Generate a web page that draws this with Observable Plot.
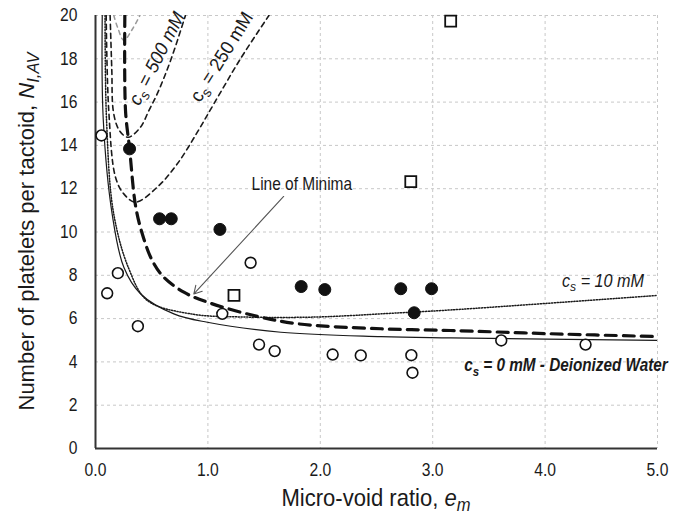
<!DOCTYPE html>
<html><head><meta charset="utf-8">
<script src="https://cdn.jsdelivr.net/npm/d3@7"></script>
<script src="https://cdn.jsdelivr.net/npm/@observablehq/plot@0.6"></script>
<style>
body{margin:0;background:#fff;}
#chart svg{display:block;}
</style></head><body><div id="chart"></div>
<script>
// ---- data ----
const xTicks = [0, 1, 2, 3, 4, 5];
const yTicks = [0, 2, 4, 6, 8, 10, 12, 14, 16, 18, 20];

const openX = [0.053, 0.104, 0.199, 0.377, 1.128, 1.38, 1.455, 1.594, 2.11, 2.36, 2.81, 2.82, 3.61, 4.36];
const openY = [14.46, 7.17, 8.10, 5.65, 6.22, 8.58, 4.80, 4.50, 4.34, 4.30, 4.31, 3.50, 4.99, 4.80];

const filledX = [0.303, 0.57, 0.674, 1.107, 1.83, 2.04, 2.716, 2.99, 2.835];
const filledY = [13.84, 10.61, 10.61, 10.12, 7.48, 7.34, 7.38, 7.38, 6.27];

const squareX = [1.232, 2.805, 3.16];
const squareY = [7.07, 12.33, 19.74];

// cs = 0 mM (deionized water), solid
const water0X = [0.06, 0.069, 0.149, 0.252, 0.40, 0.697, 0.995, 1.65, 2.54, 3.16, 5.0];
const water0Y = [20.0, 15.2, 10.8, 8.37, 7.15, 6.22, 5.83, 5.37, 5.17, 5.11, 4.99];

// cs = 10 mM, dotted
const cs10X = [0.085, 0.098, 0.16, 0.297, 0.46, 0.846, 1.35, 1.94, 2.27, 2.54, 3.16, 5.0];
const cs10Y = [20.0, 15.2, 10.9, 8.3, 6.84, 6.22, 6.07, 6.07, 6.14, 6.22, 6.4, 7.07];

// cs = 250 mM, dashed
const cs250X = [0.095, 0.118, 0.178, 0.252, 0.356, 0.549, 0.728, 0.906, 1.053, 1.291, 1.543];
const cs250Y = [20.0, 15.6, 12.53, 11.76, 11.38, 12.07, 13.15, 14.61, 15.92, 18.01, 20.0];

// cs = 500 mM, dashed
const cs500X = [0.13, 0.145, 0.158, 0.2, 0.252, 0.297, 0.40, 0.475, 0.549, 0.668, 0.80];
const cs500Y = [20.0, 17.5, 15.6, 14.8, 14.46, 14.38, 14.84, 15.61, 16.38, 17.92, 20.0];

// highest concentration curve (light grey, partially visible)
const csHighX = [0.163, 0.2, 0.252, 0.32, 0.395];
const csHighY = [20.0, 19.4, 18.85, 19.3, 20.0];

// line of minima, heavy dashed
const minimaX = [0.261, 0.267, 0.303, 0.356, 0.416, 0.505, 0.608, 0.786, 0.995, 1.41, 1.80, 2.54, 3.16, 4.05, 5.0];
const minimaY = [20.0, 15.61, 13.86, 11.22, 9.92, 8.68, 7.91, 7.22, 6.76, 6.14, 5.76, 5.53, 5.45, 5.3, 5.17];

// annotation arrow (tail -> head)
const arrowFrom = [1.674, 11.64];
const arrowTo = [0.875, 7.14];

// label anchors
const minimaLabel = {x: 1.84, y: 12.1, text: "Line of Minima"};
const csLabels = [
  {x: 0.557, y: 17.97, rotate: -63, value: "500 mM", style: "italic", weight: "normal", size: 19, k: 0.95},
  {x: 1.135, y: 18.04, rotate: -58, value: "250 mM", style: "normal", weight: "normal", size: 19, k: 0.95},
  {x: 4.52, y: 7.67, rotate: 0, value: "10 mM", style: "italic", weight: "normal", size: 18, k: 0.9},
  {x: 4.19, y: 3.74, rotate: 0, value: "0 mM - Deionized Water", style: "italic", weight: "bold", size: 18, k: 0.85}
];

// ---- build tables ----
const zip = (xs, ys) => xs.map((x, i) => ({x, y: ys[i]}));
const openPts = zip(openX, openY);
const filledPts = zip(filledX, filledY);
const squarePts = zip(squareX, squareY);

const FONT = "'Liberation Sans',Arial,sans-serif";
const INK = "#1a1a1a";
const NARROW = 0.87;

const chart = Plot.plot({
  width: 682,
  height: 520,
  marginLeft: 95,
  marginRight: 25,
  marginTop: 15,
  marginBottom: 72,
  style: {fontFamily: FONT, background: "#fff", color: INK},
  x: {domain: [0, 5], label: null},
  y: {domain: [0, 20], label: null},
  marks: [
    Plot.gridX(xTicks.filter(d => d > 0), {stroke: "#c8c8c8", strokeOpacity: 1, strokeDasharray: "3,3", strokeWidth: 1}),
    Plot.gridY(yTicks.filter(d => d > 0), {stroke: "#c8c8c8", strokeOpacity: 1, strokeDasharray: "3,3", strokeWidth: 1}),
    Plot.axisX(xTicks, {tickSize: 0, tickPadding: 15, fontSize: 18, tickFormat: d => d.toFixed(1), fill: INK, label: null}),
    Plot.axisY(yTicks, {tickSize: 0, tickPadding: 18, fontSize: 18, fill: INK, label: null}),
    Plot.line(zip(csHighX, csHighY), {x: "x", y: "y", curve: "catmull-rom", stroke: "#9a9a9a", strokeWidth: 1.5, strokeDasharray: "4,4", clip: true}),
    Plot.line(zip(water0X, water0Y), {x: "x", y: "y", curve: "catmull-rom", stroke: INK, strokeWidth: 1.2, clip: true}),
    Plot.line(zip(cs10X, cs10Y), {x: "x", y: "y", curve: "catmull-rom", stroke: INK, strokeWidth: 1.5, strokeDasharray: "1.2,1.6", clip: true}),
    Plot.line(zip(cs250X, cs250Y), {x: "x", y: "y", curve: "catmull-rom", stroke: INK, strokeWidth: 1.6, strokeDasharray: "5,4", clip: true}),
    Plot.line(zip(cs500X, cs500Y), {x: "x", y: "y", curve: "catmull-rom", stroke: INK, strokeWidth: 1.6, strokeDasharray: "5,4", clip: true}),
    Plot.line(zip(minimaX, minimaY), {x: "x", y: "y", curve: "catmull-rom", stroke: "#111", strokeWidth: 3.2, strokeDasharray: "11,7", clip: true}),
    Plot.arrow([{x1: arrowFrom[0], y1: arrowFrom[1], x2: arrowTo[0], y2: arrowTo[1]}], {x1: "x1", y1: "y1", x2: "x2", y2: "y2", stroke: "#555", strokeWidth: 1.1, headLength: 12, bend: 0}),
    Plot.ruleX([0], {stroke: "#333", strokeWidth: 2}),
    Plot.ruleY([0], {stroke: "#333", strokeWidth: 2}),
    Plot.dot(openPts, {x: "x", y: "y", r: 5.4, fill: "#fff", stroke: "#111", strokeWidth: 1.6}),
    Plot.dot(filledPts, {x: "x", y: "y", r: 6, fill: "#111", stroke: "#111", strokeWidth: 1}),
    Plot.dot(squarePts, {x: "x", y: "y", symbol: "square", r: 6.2, fill: "#fff", stroke: "#111", strokeWidth: 1.8})
  ]
});

document.getElementById("chart").appendChild(chart);

// condense the tick labels horizontally (narrow font look)
d3.select(chart).selectAll("g[aria-label='x-axis tick label'] text, g[aria-label='y-axis tick label'] text")
  .each(function() {
    const tr = this.getAttribute("transform") || "";
    this.setAttribute("transform", tr + ` scale(${NARROW},1)`);
  });

// ---- rich text labels (subscripts) ----
const sx = chart.scale("x"), sy = chart.scale("y");
const svg = d3.select(chart);

function rich(x, y, rotate, size, segs, opts = {}) {
  const t = svg.append("text")
    .attr("transform", `translate(${x},${y}) rotate(${rotate}) scale(${opts.k ?? NARROW},1)`)
    .attr("text-anchor", opts.anchor || "middle")
    .attr("dominant-baseline", opts.baseline || "middle")
    .attr("font-family", FONT)
    .attr("font-size", size)
    .attr("font-style", opts.style || "normal")
    .attr("font-weight", opts.weight || "normal")
    .attr("fill", INK);
  let shifted = 0;
  const drop = opts.drop ?? 0.3;
  for (const s of segs) {
    const ts = t.append("tspan").text(s.t);
    if (s.italic) ts.attr("font-style", "italic");
    const target = s.sub ? size * drop : 0;
    if (target !== shifted) { ts.attr("dy", target - shifted); shifted = target; }
    if (s.sub) ts.attr("font-size", size * 0.75);
  }
  return t;
}

rich(sx.apply(minimaLabel.x), sy.apply(minimaLabel.y), 0, 18, [{t: minimaLabel.text}], {k: 0.86});

for (const L of csLabels) {
  rich(sx.apply(L.x), sy.apply(L.y), L.rotate, L.size,
    [{t: "c"}, {t: "s", sub: true}, {t: " = " + L.value}],
    {style: L.style, weight: L.weight, k: L.k});
}

// axis titles
const plotLeft = 95, plotRight = 682 - 25, plotTop = 15, plotBottom = 520 - 72;
rich((plotLeft + plotRight) / 2, 506, 0, 24,
  [{t: "Micro-void ratio, "}, {t: "e", italic: true}, {t: "m", sub: true, italic: true}],
  {baseline: "alphabetic", k: 0.92, drop: 0.2});
rich(28, (plotTop + plotBottom) / 2, -90, 22,
  [{t: "Number of platelets per tactoid, "}, {t: "N", italic: true}, {t: "I,AV", sub: true, italic: true}],
  {k: 1});
</script></body></html>
